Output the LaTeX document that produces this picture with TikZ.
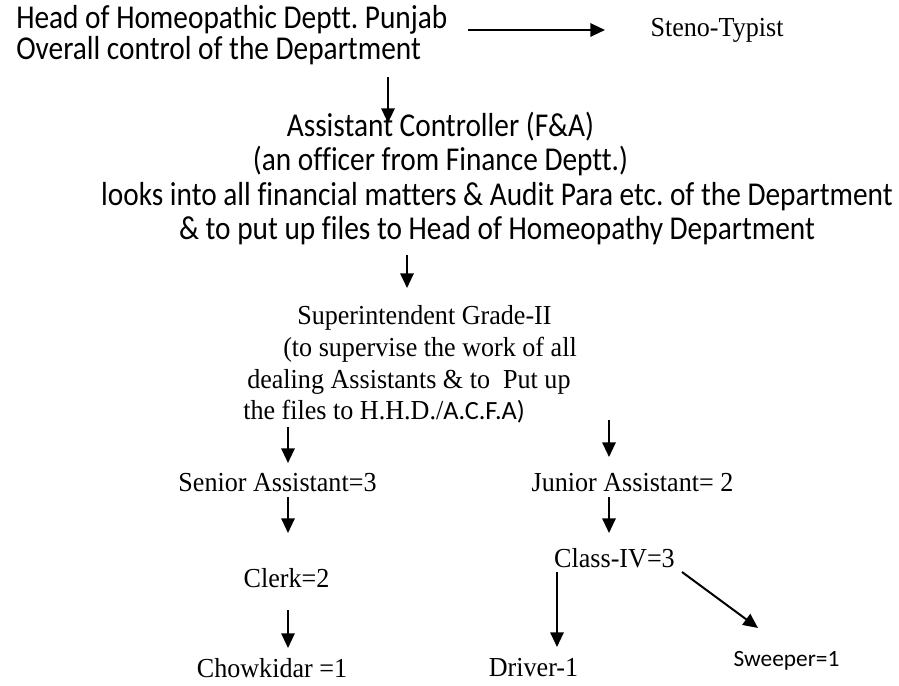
\documentclass[tikz,border=0pt]{standalone}
\usepackage{fontspec}
\setmainfont[FakeStretch=0.95]{Liberation Serif}
\newfontfamily\calfont[Ligatures=NoCommon, FakeStretch=0.88]{Carlito}
\newfontfamily\calplain[Ligatures=NoCommon]{Carlito}
\usetikzlibrary{arrows.meta}
\frenchspacing
\tikzset{
    >={Triangle[length=11pt,width=10pt]}, % filled heads like the chart
    every node/.style={inner sep=0pt}, % text sits right on its position
    cal/.style={font=\calfont\fontsize{25pt}{25.5pt}\selectfont}, % sans lines
    tms/.style={font=\fontsize{20.6pt}{23.8pt}\selectfont}, % serif lines
    link/.style={->, line width=1.5pt}, % the short arrows
}

\begin{document}
\begin{tikzpicture}[x=0.75pt, y=-0.75pt]
        \useasboundingbox (0,0) rectangle (899,685);

        \node[cal, align=left, anchor=west, font=\calfont\fontsize{25pt}{23.25pt}\selectfont] (head) at (16,35) {Head of Homeopathic Deptt. Punjab\\Overall control of the Department};
        \node[tms] (steno) at (717,30) {Steno-Typist};
        \node[cal, align=center] (ctl) at (440.5,144) {Assistant Controller (F\&A)\\(an officer from Finance Deptt.)};
        \node[cal, align=center] (duty) at (497,213.5) {looks into all financial matters \& Audit Para etc. of the Department\\\& to put up files to Head of Homeopathy Department};
        \node[tms, align=left, anchor=west] (supt) at (243,364.5) {\hspace*{40.5pt}Superintendent Grade-II\\\hspace*{30pt}(to supervise the work of all\\\hspace*{3pt}dealing Assistants \& to \ Put up\\the files to H.H.D./{\calplain\fontsize{19.7pt}{23.8pt}\selectfont A.C.F.A)}};
        \node[tms] (senior) at (277.5,483) {Senior Assistant=3};
        \node[tms] (junior) at (632.5,483) {Junior Assistant= 2};
        \node[tms] (clerk) at (286.5,578) {Clerk=2};
        \node[tms] (class4) at (614.5,558) {Class-IV=3};
        \node[tms] (chow) at (272,668) {Chowkidar =1};
        \node[tms] (driver) at (533.5,668) {Driver-1};
        \node[font=\calplain\fontsize{17.5pt}{20pt}\selectfont] (sweeper) at (786.5,661) {Sweeper=1};

        % loose ends of the arrows
        \coordinate (headE) at (468,30);
        \coordinate (stenoW) at (605,30);
        \coordinate (headS) at (388,77);
        \coordinate (ctlN) at (388,123);
        \coordinate (dutyS) at (407,255);
        \coordinate (suptN) at (407,288);
        \coordinate (suptSL) at (288,427);
        \coordinate (seniorN) at (288,463);
        \coordinate (suptSR) at (609,420);
        \coordinate (juniorN) at (609,457);
        \coordinate (seniorS) at (288,497);
        \coordinate (clerkN) at (288,533);
        \coordinate (juniorS) at (609,497);
        \coordinate (class4N) at (609,533);
        \coordinate (clerkS) at (288,610);
        \coordinate (chowN) at (288,648);
        \coordinate (class4SW) at (557,572);
        \coordinate (driverN) at (557,647);
        \coordinate (class4SE) at (682,572);
        \coordinate (sweeperN) at (758,628);

        \draw[link] (headE) -- (stenoW);
        \draw[link] (headS) -- (ctlN);
        \draw[link] (dutyS) -- (suptN);
        \draw[link] (suptSL) -- (seniorN);
        \draw[link] (suptSR) -- (juniorN);
        \draw[link] (seniorS) -- (clerkN);
        \draw[link] (juniorS) -- (class4N);
        \draw[link] (clerkS) -- (chowN);
        \draw[link] (class4SW) -- (driverN);
        \draw[link] (class4SE) -- (sweeperN);
\end{tikzpicture}
\end{document}
